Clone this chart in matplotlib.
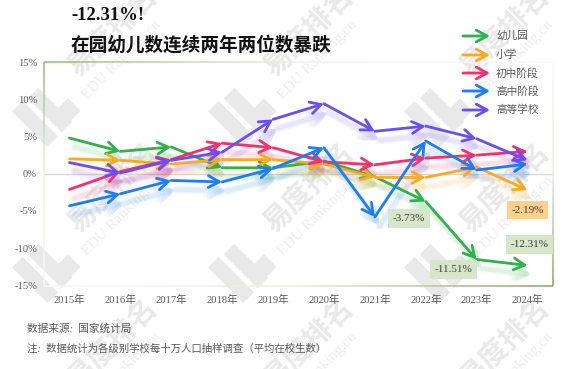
import matplotlib
matplotlib.use('Agg')
import matplotlib.pyplot as plt
import numpy as np
from matplotlib.collections import LineCollection
from matplotlib.colors import LinearSegmentedColormap
from matplotlib.patches import Polygon
from matplotlib.transforms import ScaledTranslation

plt.rcParams['font.family'] = ['Liberation Serif', 'Noto Sans CJK SC']

years = ['2015年', '2016年', '2017年', '2018年', '2019年', '2020年', '2021年', '2022年', '2023年', '2024年']
kindergarten = [4.8, 3.0, 3.6, 0.8, 0.8, 1.7, -0.4, -3.73, -11.51, -12.31]
primary = [2.0, 1.8, 1.3, 1.9, 1.9, 1.3, -0.5, -0.5, 0.9, -2.19]
junior = [-2.1, 0.3, 1.9, 4.1, 3.5, 1.6, 1.2, 2.1, 2.5, 3.0]
senior = [-4.3, -2.7, -0.9, -1.1, 0.7, 3.5, -5.8, 4.4, 0.5, 1.3]
higher = [1.5, 0.1, 1.8, 2.9, 7.3, 9.4, 5.7, 6.4, 4.7, 1.8]

names = ['幼儿园', '小学', '初中阶段', '高中阶段', '高等学校']
series = [kindergarten, primary, junior, senior, higher]
colors = ['#2db34a', '#ffa91f', '#ff2d6a', '#1a7cff', '#6a4dff']

W, H = 577, 369
fig = plt.figure(figsize=(W / 100, H / 100), dpi=100)
ax = fig.add_axes([44 / W, 1 - 285.5 / H, 509 / W, 223.5 / H], zorder=5)
ax.patch.set_alpha(0)

head = '->,head_length=0.46,head_width=0.25'

# watermark tiles
wm = '#e9e9e9'
for cx in [113, 309, 505]:
    for cy in [32, 188, 344]:
        fig.text(cx / W, 1 - cy / H, '易度排名', fontsize=20.5, fontweight='bold', color=wm, rotation=45,
                 ha='center', va='center', family=['Noto Sans CJK SC'], zorder=0)
        fig.text((cx + 9) / W, 1 - (cy + 28) / H, 'EDU Ranking.cn', fontsize=11, color='#eeeeee', rotation=45,
                 ha='center', va='center', zorder=0)
        for dx, dy, ln in [(-78, 92, 50), (-63, 78, 48), (-44, 78, 18)]:
            px, py = cx + dx, cy + dy
            d, n = ln / 2 * 0.707, 7.5 * 0.707
            pts = [(px - d - n, py - d + n), (px - d + n, py - d - n), (px + d + n, py + d - n), (px + d - n, py + d + n)]
            fig.add_artist(Polygon([(a / W, 1 - b / H) for a, b in pts], closed=True, fc='#e9e9e9', ec='none',
                                   transform=fig.transFigure, zorder=0))


def draw_arrows(ys, color, lw, alpha=1.0, trans=None):
    trans = trans or ax.transData
    for i in range(len(ys) - 1):
        ax.annotate('', xy=(i + 1, ys[i + 1]), xytext=(i, ys[i]), xycoords=trans, textcoords=trans,
                    arrowprops=dict(arrowstyle=head, color=color, lw=lw, alpha=alpha, shrinkA=0, shrinkB=0,
                                    mutation_scale=17, capstyle='round', joinstyle='round'))


# blurred drop shadows
shift = ax.transData + ScaledTranslation(5 / 100, -9 / 100, fig.dpi_scale_trans)
for ys, c in zip(series, colors):
    for w, a in [(6, 0.035), (4.5, 0.05), (3, 0.06)]:
        draw_arrows(ys, c, w, alpha=a, trans=shift)

ax.axhline(0, color='#d9d9d9', lw=1, zorder=1)

for ys, c in zip(series, colors):
    draw_arrows(ys, c, 2.0)

ax.set_xlim(-0.5, 9.5)
ax.set_ylim(-15, 15)
ax.set_xticks(range(len(years)))
ax.set_xticklabels(years)
ax.set_yticks([-15, -10, -5, 0, 5, 10, 15])
ax.set_yticklabels(['-15%', '-10%', '-5%', '0%', '5%', '10%', '15%'])
ax.tick_params(length=0, labelcolor='#595959', labelsize=7.6)
ax.tick_params(axis='x', pad=7)
ax.tick_params(axis='y', pad=5)

# gradient frame
for s in ax.spines.values():
    s.set_visible(False)
cmap = LinearSegmentedColormap.from_list('frame', ['#8cc06a', '#eef5e8', '#f7faf4'])
cmap2 = LinearSegmentedColormap.from_list('frame2', ['#f7faf4', '#e6efdc', '#84a964'])
t = np.linspace(0, 1, 60)
for x, y, cm in [(t, 1 + 0 * t, cmap), (0 * t, 1 - t, cmap), (1 + 0 * t, 1 - t, cmap2), (t, 0 * t, cmap2)]:
    pts = np.column_stack([x, y]).reshape(-1, 1, 2)
    lc = LineCollection(np.concatenate([pts[:-1], pts[1:]], axis=1), cmap=cm, array=t[:-1], lw=1.1,
                        transform=ax.transAxes, clip_on=False)
    ax.add_collection(lc)

# data labels
green_box = '#d5e6c9'
orange_box = '#ffd08a'
labels = [(7, kindergarten[7], -17, -17, green_box), (8, kindergarten[8], -23, -10, green_box),
          (9, kindergarten[9], 2, 21, green_box), (9, primary[9], 0, -20, orange_box)]
for i, v, dx, dy, box in labels:
    ax.annotate(f'{v:.2f}%', xy=(i, v), xytext=(dx, dy), textcoords='offset pixels', ha='center', va='center',
                fontsize=8, color='#404040', annotation_clip=False, zorder=6,
                bbox=dict(boxstyle='square,pad=0.42', fc=box, ec='none'))

# legend
for name, c, ly in zip(names, colors, [36, 55, 73, 91, 110]):
    ax.annotate('', xy=(490 / W, 1 - ly / H), xytext=(463 / W, 1 - ly / H), xycoords='figure fraction',
                textcoords='figure fraction',
                arrowprops=dict(arrowstyle=head, color=c, lw=2.0, shrinkA=0, shrinkB=0, mutation_scale=17))
    fig.text(496 / W, 1 - ly / H, name, fontsize=7.7, color='#595959', style='italic', va='center', zorder=6)

fig.text(71 / W, 1 - 16 / H, '-12.31%!', fontsize=13.4, fontweight='bold', color='#111111', va='center', zorder=6)
fig.text(71 / W, 1 - 45 / H, '在园幼儿数连续两年两位数暴跌', fontsize=13.4, fontweight='bold', color='#111111', va='center', zorder=6)
fig.text(27 / W, 1 - 329 / H, '数据来源:  国家统计局', fontsize=7.7, color='#595959', style='italic', va='center', zorder=6)
fig.text(27 / W, 1 - 349 / H, '注:  数据统计为各级别学校每十万人口抽样调查（平均在校生数）', fontsize=7.5, color='#595959',
         style='italic', va='center', zorder=6)

fig.savefig('out.png', dpi=100)
